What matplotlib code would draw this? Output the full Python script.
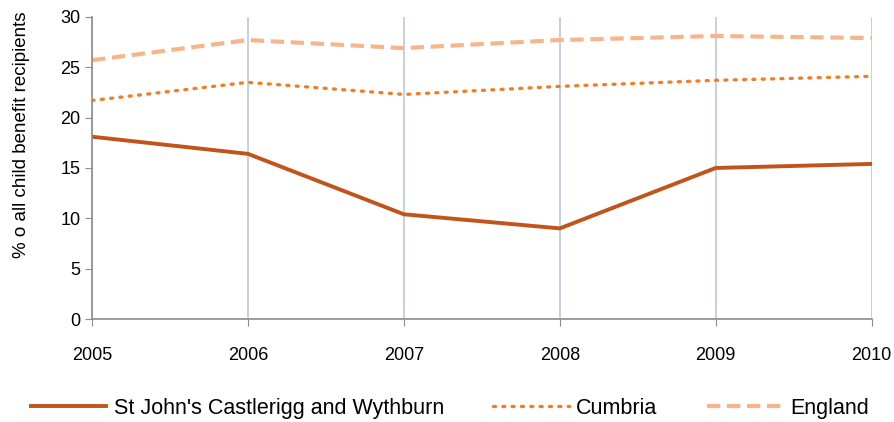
import matplotlib
matplotlib.use("Agg")
import matplotlib.pyplot as plt

plt.rcParams['font.family'] = ['Liberation Sans', 'DejaVu Sans']

years = [2005, 2006, 2007, 2008, 2009, 2010]
st_johns = [18.1, 16.4, 10.4, 9.0, 15.0, 15.4]
cumbria = [21.7, 23.5, 22.3, 23.1, 23.7, 24.1]
england = [25.7, 27.7, 26.9, 27.7, 28.1, 27.9]

fig = plt.figure(figsize=(8.94, 4.22), dpi=100)
ax = fig.add_axes([0.103, 0.244, 0.872, 0.716])

# vertical grid at each year
ax.grid(axis='x', color='#B9C9DF', linewidth=1.2)
ax.set_axisbelow(True)

ax.plot(years, st_johns, color='#C0541A', linewidth=2.8, label="St John's Castlerigg and Wythburn")
ax.plot(years, cumbria, color='#F07E26', linewidth=2.4, linestyle=(0, (0.6, 2.2)),
        dash_capstyle='round', label='Cumbria')
ax.plot(years, england, color='#F8B58A', linewidth=3.0, linestyle=(0, (3.2, 1.6)), label='England')

ax.set_xlim(2005, 2010)
ax.set_ylim(0, 30)
ax.set_xticks(years)
ax.set_yticks(range(0, 31, 5))
ax.set_ylabel('% o all child benefit recipients', fontsize=13.5)
ax.yaxis.set_label_coords(-0.08, 0.61)

for side in ['top', 'right']:
    ax.spines[side].set_visible(False)
for side in ['left', 'bottom']:
    ax.spines[side].set_color('#8C8C8C')
    ax.spines[side].set_linewidth(1.2)
ax.tick_params(axis='both', colors='#8C8C8C', labelcolor='black', labelsize=13, length=5)
ax.tick_params(axis='x', pad=15)

fig.legend(loc='center', bbox_to_anchor=(0.503, 0.032), ncol=3, frameon=False,
           fontsize=15.5, handlelength=3.5, columnspacing=2.3, handletextpad=0.35)

fig.savefig('out.png', dpi=100)
